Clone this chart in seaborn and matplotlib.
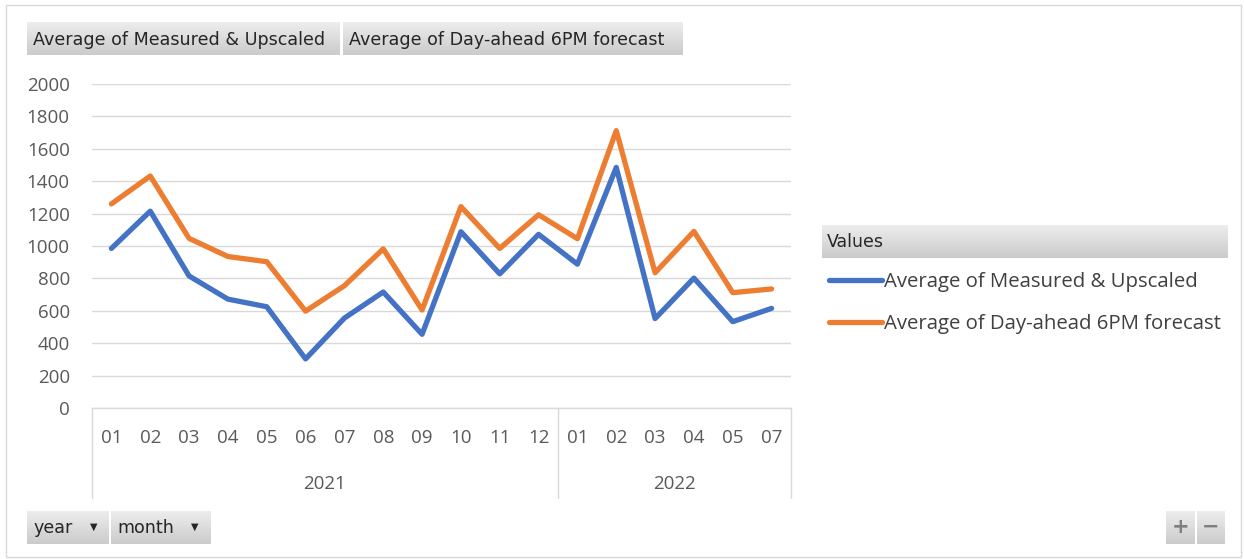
import numpy as np
import pandas as pd
import seaborn as sns
import matplotlib.pyplot as plt
from matplotlib.patches import Rectangle

years = ["2021"] * 12 + ["2022"] * 6
months = ["01", "02", "03", "04", "05", "06", "07", "08", "09", "10", "11", "12",
          "01", "02", "03", "04", "05", "07"]
measured = [985, 1215, 815, 672, 625, 303, 555, 716, 455, 1088, 828, 1072,
            888, 1485, 552, 802, 533, 615]
forecast = [1260, 1432, 1047, 935, 903, 598, 755, 982, 605, 1243, 985, 1193,
            1045, 1712, 835, 1090, 712, 735]
series_names = ["Average of Measured & Upscaled", "Average of Day-ahead 6PM forecast"]
colors = ["#4472C4", "#ED7D31"]

df = pd.DataFrame({"idx": range(len(months)), "month": months, "year": years,
                   series_names[0]: measured, series_names[1]: forecast})
long = df.melt(id_vars=["idx", "month", "year"], value_vars=series_names,
               var_name="series", value_name="value")

sns.set_theme(style="white")
plt.rcParams["font.family"] = ["Open Sans", "DejaVu Sans"]

W, H = 1244, 559
fig = plt.figure(figsize=(W / 100, H / 100), dpi=100)

# background layer in pixel coordinates (buttons, border, labels)
bg = fig.add_axes([0, 0, 1, 1])
bg.set_xlim(0, W)
bg.set_ylim(H, 0)
bg.axis("off")

bg.add_patch(Rectangle((6, 5), 1235, 552, fill=False, ec="#D9D9D9", lw=1))

grad = np.linspace(0, 1, 50).reshape(-1, 1)
cmap = plt.matplotlib.colors.LinearSegmentedColormap.from_list("btn", ["#EDEDED", "#CBCBCB"])


def button(x0, x1, y0, y1):
    bg.imshow(grad, extent=(x0, x1, y1, y0), cmap=cmap, aspect="auto", zorder=1)


hdr_font = dict(family=["DejaVu Sans"], color="#262626", fontsize=12.6, va="center", zorder=3)
button(27, 340, 22, 55)
button(343, 683, 22, 55)
bg.text(33, 40, series_names[0], **hdr_font)
bg.text(349, 40, series_names[1], **hdr_font)

button(822, 1228, 225, 258)
bg.text(827, 242, "Values", family=["DejaVu Sans"], color="#262626", fontsize=12.5,
        va="center", zorder=3)

button(27, 109, 511, 544)
button(111, 211, 511, 544)
bg.text(33, 528, "year", **hdr_font)
bg.text(117, 528, "month", **hdr_font)
bg.text(94, 527, "\u25BC", family=["DejaVu Sans"], color="#262626", fontsize=7,
        va="center", ha="center", zorder=3)
bg.text(195, 527, "\u25BC", family=["DejaVu Sans"], color="#262626", fontsize=7,
        va="center", ha="center", zorder=3)

button(1166, 1195, 511, 544)
button(1197, 1225, 511, 544)
bg.text(1180.5, 527, "+", family=["DejaVu Sans"], color="#7F7F7F", fontsize=15,
        fontweight="bold", va="center", ha="center", zorder=3)
bg.text(1211, 527, "\u2212", family=["DejaVu Sans"], color="#7F7F7F", fontsize=15,
        fontweight="bold", va="center", ha="center", zorder=3)

# main plot area
left, right, top, bottom = 92, 791, 84, 408
ax = fig.add_axes([left / W, (H - bottom) / H, (right - left) / W, (bottom - top) / H])
ax.patch.set_alpha(0)

sns.lineplot(data=long, x="idx", y="value", hue="series", palette=colors,
             hue_order=series_names, linewidth=3.8, ax=ax, legend=True)
for ln in ax.get_lines():
    ln.set_solid_joinstyle("round")
    ln.set_solid_capstyle("round")

ax.set_xlim(-0.5, len(months) - 0.5)
ax.set_ylim(0, 2000)
ax.set_yticks(np.arange(0, 2001, 200))
ax.yaxis.grid(True, color="#D9D9D9", lw=1)
ax.set_axisbelow(True)
ax.set_xticks(df["idx"])
ax.set_xticklabels(months)
ax.tick_params(axis="x", length=0, pad=15, labelsize=13.5, labelcolor="#595959")
ax.tick_params(axis="y", length=0, pad=16, labelsize=13.5, labelcolor="#595959")
ax.set_xlabel("")
ax.set_ylabel("")
for s in ["left", "right", "top"]:
    ax.spines[s].set_visible(False)
ax.spines["bottom"].set_color("#D9D9D9")
ax.spines["bottom"].set_linewidth(1)

# multi-level category axis: year separators and labels
depth = (498 - bottom) / (bottom - top)
trans = ax.get_xaxis_transform()
year_order = list(dict.fromkeys(years))
bounds = [-0.5]
for y in year_order:
    n = years.count(y)
    start = bounds[-1]
    bounds.append(start + n)
    ax.text(start + n / 2, -(484 - bottom) / (bottom - top), y, transform=trans,
            ha="center", va="center", fontsize=13.5, color="#595959")
for b in bounds:
    ax.plot([b, b], [0, -depth], transform=trans, color="#D9D9D9", lw=1, clip_on=False)

handles, labels = ax.get_legend_handles_labels()
ax.legend(handles, labels, loc="upper left", bbox_to_anchor=(829 / W, (H - 272) / H),
          bbox_transform=fig.transFigure, frameon=False, fontsize=14.7,
          handlelength=2.6, handletextpad=0.1, labelspacing=1.1, borderaxespad=0,
          borderpad=0, labelcolor="#404040")

fig.savefig("out.png", dpi=100)
